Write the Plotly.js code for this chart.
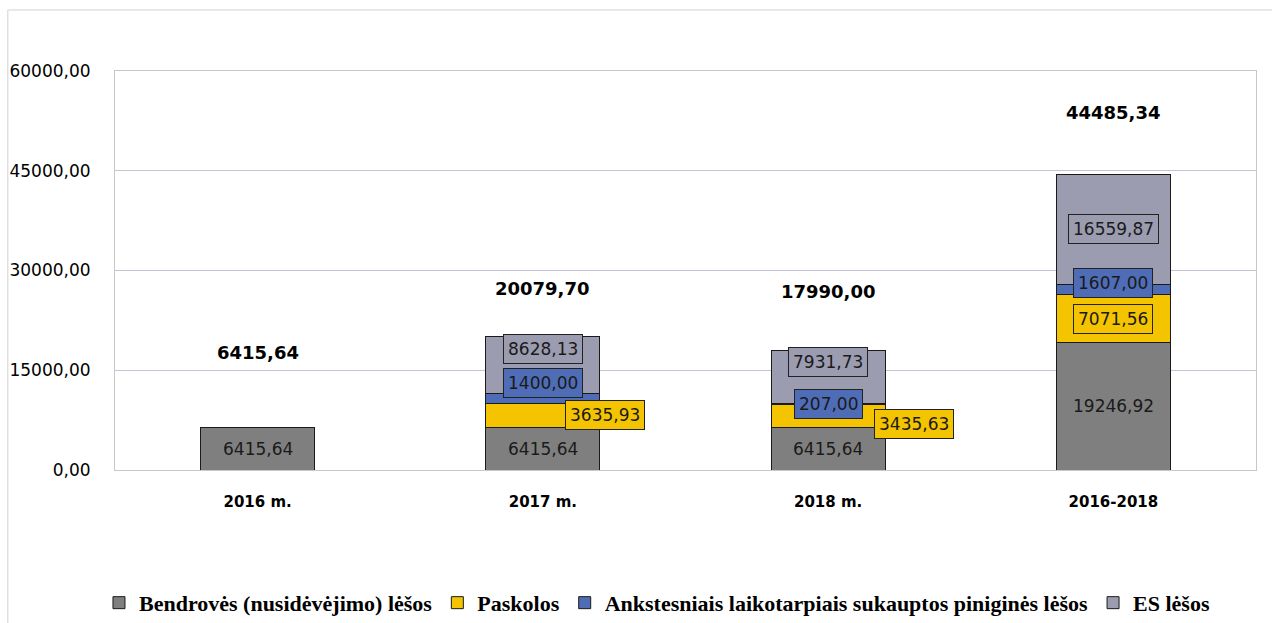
<!DOCTYPE html>
<html>
<head>
<meta charset="utf-8">
<script src="https://cdn.plot.ly/plotly-3.0.1.min.js"></script>
<style>html,body{margin:0;padding:0;background:#fff;}#chart{width:1272px;height:623px;}</style>
</head>
<body>
<div id="chart"></div>
<script>
const categories = ['2016 m.', '2017 m.', '2018 m.', '2016-2018'];
const seriesNames = ['Bendrovės (nusidėvėjimo) lėšos', 'Paskolos', 'Ankstesniais laikotarpiais sukauptos piniginės lėšos', 'ES lėšos'];
const bendroves = [6415.64, 6415.64, 6415.64, 19246.92];
const paskolos = [0, 3635.93, 3435.63, 7071.56];
const ankstesniais = [0, 1400.00, 207.00, 1607.00];
const esLesos = [0, 8628.13, 7931.73, 16559.87];
const totals = [6415.64, 20079.70, 17990.00, 44485.34];
const yTicks = [0, 15000, 30000, 45000, 60000];

const colors = ['#7f7f7f', '#f5c400', '#4f6db6', '#9b9cb0'];
const series = [bendroves, paskolos, ankstesniais, esLesos];

// label offsets (pixels) per series per category: [xshift, yshift]
const labelShift = [
  [[0,0],[0,0],[0,0],[0,0]],
  [[0,0],[62,0],[86,-8],[0,0]],
  [[0,0],[0,16],[0,0],[0,7]],
  [[0,0],[0,16],[0,15],[0,0]]
];
const totalShift = [75, 48, 59, 62];

function fmt(v){ return v.toFixed(2).replace('.', ','); }

const traces = series.map((vals, i) => ({
  type: 'bar',
  name: seriesNames[i],
  x: categories,
  y: vals,
  width: 0.4,
  marker: {color: colors[i], line: {color: '#1a1a1a', width: 1}},
  hoverinfo: 'none'
}));

const annotations = [];
const cum = categories.map(() => 0);
series.forEach((vals, i) => {
  vals.forEach((v, j) => {
    const base = cum[j];
    cum[j] += v;
    if (v <= 0) return;
    const a = {
      x: categories[j], y: base + v / 2, xref: 'x', yref: 'y',
      text: fmt(v), showarrow: false,
      xshift: labelShift[i][j][0], yshift: labelShift[i][j][1],
      font: {family: 'DejaVu Sans', size: 17, color: '#1a1a1a'}
    };
    if (i > 0) {
      a.bgcolor = colors[i];
      a.bordercolor = '#222';
      a.borderwidth = 1;
      a.borderpad = 4;
    }
    annotations.push(a);
  });
});
totals.forEach((t, j) => {
  annotations.push({
    x: categories[j], y: t, xref: 'x', yref: 'y', text: '<b>' + fmt(t) + '</b>',
    showarrow: false, yshift: totalShift[j],
    font: {family: 'DejaVu Sans', size: 18, color: '#000'}
  });
});

const layout = {
  width: 1272, height: 623,
  margin: {l: 115, r: 16, t: 71, b: 153, autoexpand: false},
  paper_bgcolor: '#fff', plot_bgcolor: '#fff',
  barmode: 'stack',
  separators: ',.',
  showlegend: true,
  legend: {
    orientation: 'h', x: 0.475, xanchor: 'center', y: -0.333, yanchor: 'middle',
    font: {family: 'Liberation Serif', size: 22, color: '#000', weight: 'bold'},
    traceorder: 'normal', itemclick: false, itemdoubleclick: false,
    itemwidth: 30, tracegroupgap: 0
  },
  xaxis: {
    type: 'category',
    showgrid: false, zeroline: false,
    showline: true, linecolor: '#c8c8c8', linewidth: 1, mirror: true,
    ticks: '', ticklabelstandoff: 18,
    tickfont: {family: 'DejaVu Sans', size: 15, color: '#000', weight: 'bold'},
    tickvals: categories, ticktext: categories.map(c => '<b>' + c + '</b>')
  },
  yaxis: {
    range: [0, 60000], tickvals: yTicks, ticktext: yTicks.map(fmt),
    showgrid: true, gridcolor: '#c3c3d3', gridwidth: 1, zeroline: false,
    showline: true, linecolor: '#c8c8c8', linewidth: 1, mirror: true,
    ticks: '', ticklabelstandoff: 20,
    tickfont: {family: 'DejaVu Sans', size: 17, color: '#000'}
  },
  annotations: annotations,
  shapes: [
    {type: 'line', xref: 'paper', yref: 'paper', x0: -0.094, x1: 1.02, y0: 1.153, y1: 1.153, line: {color: '#e0e0e0', width: 1.5}},
    {type: 'line', xref: 'paper', yref: 'paper', x0: -0.094, x1: -0.094, y0: 1.153, y1: -0.4, line: {color: '#e0e0e0', width: 1.5}}
  ]
};

Plotly.newPlot('chart', traces, layout, {displayModeBar: false, staticPlot: true});
</script>
</body>
</html>
